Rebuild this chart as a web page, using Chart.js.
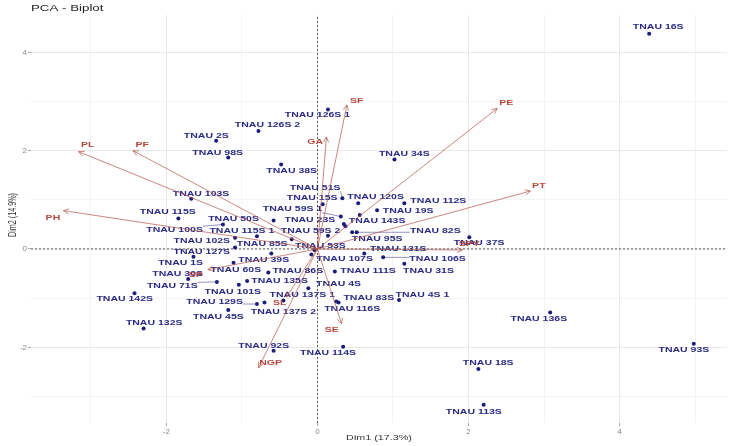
<!DOCTYPE html>
<html>
<head>
<meta charset="utf-8">
<script src="https://cdn.jsdelivr.net/npm/chart.js@4.4.1/dist/chart.umd.min.js"></script>
<style>
  html,body{margin:0;padding:0;background:#fff}
  #wrap{width:731px;height:446px}
</style>
</head>
<body>
<div id="wrap"><canvas id="c"></canvas></div>
<script>
/* PCA biplot — genotypes (points) + trait loadings (arrows) */

var NAMES = ['TNAU 16S','TNAU 126S 1','TNAU 126S 2','TNAU 2S','TNAU 98S','TNAU 38S','TNAU 34S','TNAU 51S','TNAU 15S','TNAU 120S',
  'TNAU 112S','TNAU 103S','TNAU 59S 1','TNAU 19S','TNAU 115S','TNAU 50S','TNAU 23S','TNAU 143S','TNAU 100S','TNAU 115S 1',
  'TNAU 59S 2','TNAU 95S','TNAU 82S','TNAU 102S','TNAU 85S','TNAU 127S','TNAU 53S','TNAU 131S','TNAU 37S','TNAU 107S',
  'TNAU 106S','TNAU 39S','TNAU 1S','TNAU 60S','TNAU 86S','TNAU 111S','TNAU 31S','TNAU 30S','TNAU 71S','TNAU 135S',
  'TNAU 4S','TNAU 101S','TNAU 83S','TNAU 4S 1','TNAU 142S','TNAU 129S','TNAU 116S','TNAU 137S 2','TNAU 45S','TNAU 132S',
  'TNAU 136S','TNAU 92S','TNAU 114S','TNAU 93S','TNAU 18S','TNAU 113S','TNAU 137S 1',''];
var DIM1 = [4.39,0.14,-0.78,-1.34,-1.18,-0.48,1.02,0.33,0.07,0.54,
  1.15,-1.67,0.31,0.79,-1.84,-0.58,0.35,0.37,-1.25,-0.80,
  0.14,0.46,0.52,-1.09,-0.34,-1.09,-0.04,0.62,2.01,-0.08,
  0.87,-0.61,-1.64,-1.11,-0.65,0.23,1.15,-1.71,-1.33,-0.93,
  -0.12,-1.04,0.28,1.08,-2.42,-0.80,0.25,-0.70,-1.18,-2.30,
  3.08,-0.58,0.34,4.98,2.13,2.20,-0.45,0.56];
var DIM2 = [4.38,2.84,2.40,2.20,1.86,1.72,1.82,1.03,0.91,0.93,
  0.93,1.02,0.66,0.79,0.62,0.58,0.51,0.46,0.50,0.26,
  0.27,0.34,0.34,0.23,0.20,0.03,-0.02,-0.09,0.24,-0.11,
  -0.17,-0.09,-0.16,-0.28,-0.48,-0.46,-0.30,-0.61,-0.67,-0.65,
  -0.80,-0.73,-1.09,-1.04,-0.90,-1.12,-1.07,-1.09,-1.24,-1.62,
  -1.29,-2.07,-1.99,-1.93,-2.44,-3.17,-1.05,0.69];
// where the repelled labels ended up (data units)
var LAB_X = [4.51,0.00,-0.66,-1.47,-1.32,-0.34,1.15,-0.03,-0.07,0.77,
  1.60,-1.54,-0.33,1.20,-1.98,-1.11,-0.10,0.79,-1.89,-1.00,
  -0.09,0.79,1.56,-1.53,-0.73,-1.53,0.04,1.07,2.14,0.36,
  1.59,-0.71,-1.81,-1.08,-0.26,0.67,1.47,-1.85,-1.92,-0.50,
  0.28,-1.12,0.68,1.39,-2.55,-1.36,0.46,-0.45,-1.31,-2.16,
  2.93,-0.71,0.14,4.85,2.26,2.07,-0.20,0];
var LAB_Y = [4.51,2.72,2.52,2.30,1.95,1.59,1.93,1.25,1.04,1.05,
  0.98,1.13,0.81,0.78,0.75,0.61,0.59,0.58,0.39,0.37,
  0.37,0.20,0.37,0.17,0.10,-0.07,0.07,0.00,0.12,-0.21,
  -0.21,-0.22,-0.28,-0.43,-0.44,-0.44,-0.44,-0.51,-0.75,-0.65,
  -0.72,-0.87,-0.99,-0.93,-1.02,-1.08,-1.22,-1.29,-1.38,-1.50,
  -1.43,-1.97,-2.12,-2.05,-2.32,-3.32,-0.93,0];
var SEGMENTED = ['TNAU 51S','TNAU 59S 1','TNAU 100S','TNAU 82S','TNAU 106S','TNAU 71S','TNAU 129S'];

var VAR_NAMES = ['PL','PF','PH','SF','GA','PE','PT','SPY','SP','SL','SE','NGP'];
var VAR_X  = [-3.16,-2.44,-3.36,0.39,0.12,2.38,2.82,1.92,-1.45,-0.41,0.32,-0.78];
var VAR_Y  = [1.98,2.00,0.78,2.93,2.28,2.86,1.18,-0.02,-0.42,-0.98,-1.52,-2.42];
var VAR_LX = [-3.04,-2.32,-3.50,0.52,-0.03,2.50,2.93,2.01,-1.61,-0.50,0.19,-0.62];
var VAR_LY = [2.11,2.11,0.64,3.01,2.17,2.97,1.29,0.10,-0.53,-1.10,-1.65,-2.32];

var X_TICKS = [-3,-2,-1,0,1,2,3,4,5];
var Y_TICKS = [-3,-2,-1,0,1,2,3,4];
var X_RANGE = [-3.79, 5.42], Y_RANGE = [-3.54, 4.76];

var C_PT = '#1b1b7a', C_PTLAB = '#2a2a86', C_VAR = '#b8473d', C_ARROW = 'rgba(180,85,75,.7)';
var FONT = '"Liberation Sans", Arial, sans-serif';
var SX = 1.4;   // the source picture is stretched sideways, text too

function isMajor(v){ return v % 2 === 0; }

// text stretched the same way as in the picture
function wideText(ctx, s, x, y, rot){
  ctx.save();
  ctx.translate(x, y);
  ctx.scale(SX, 1);
  if(rot) ctx.rotate(rot);
  ctx.fillText(s, 0, 0);
  ctx.restore();
}

var textPlugin = {
  id:'biplotText',
  beforeDatasetsDraw: function(chart){
    var ctx = chart.ctx, xs = chart.scales.x, ys = chart.scales.y;
    ctx.save();
    ctx.font = 'bold 7.5px ' + FONT;
    ctx.textAlign = 'center'; ctx.textBaseline = 'middle';
    NAMES.forEach(function(n, i){
      if(!n) return;
      var cx = xs.getPixelForValue(LAB_X[i]), cy = ys.getPixelForValue(LAB_Y[i]);
      if(SEGMENTED.indexOf(n) !== -1){
        var w = ctx.measureText(n).width * SX;
        var px = xs.getPixelForValue(DIM1[i]), py = ys.getPixelForValue(DIM2[i]);
        var nx = Math.max(cx - w/2, Math.min(cx + w/2, px));
        var ny = Math.max(cy - 3.5, Math.min(cy + 3.5, py));
        ctx.strokeStyle = '#6464a4'; ctx.lineWidth = 0.7;
        ctx.beginPath(); ctx.moveTo(nx, ny); ctx.lineTo(px, py); ctx.stroke();
      }
      ctx.fillStyle = C_PTLAB;
      wideText(ctx, n, cx, cy);
    });
    ctx.restore();
  },
  afterDatasetsDraw: function(chart){
    var ctx = chart.ctx, xs = chart.scales.x, ys = chart.scales.y, ca = chart.chartArea;
    var ox = xs.getPixelForValue(0), oy = ys.getPixelForValue(0);
    ctx.save();
    // open arrow heads
    ctx.strokeStyle = C_ARROW; ctx.lineWidth = 1;
    VAR_NAMES.forEach(function(v, i){
      var tx = xs.getPixelForValue(VAR_X[i]), ty = ys.getPixelForValue(VAR_Y[i]);
      var a = Math.atan2(ty - oy, tx - ox), L = 6, s = 0.45;
      ctx.beginPath();
      ctx.moveTo(tx - L*Math.cos(a - s), ty - L*Math.sin(a - s));
      ctx.lineTo(tx, ty);
      ctx.lineTo(tx - L*Math.cos(a + s), ty - L*Math.sin(a + s));
      ctx.stroke();
    });
    ctx.font = 'bold 7.5px ' + FONT;
    ctx.textAlign = 'center'; ctx.textBaseline = 'middle';
    ctx.fillStyle = C_VAR;
    VAR_NAMES.forEach(function(v, i){
      wideText(ctx, v, xs.getPixelForValue(VAR_LX[i]), ys.getPixelForValue(VAR_LY[i]));
    });
    // title + axis titles
    ctx.fillStyle = '#222';
    ctx.font = '9.5px ' + FONT; ctx.textAlign = 'left';
    wideText(ctx, 'PCA - Biplot', ca.left, 8);
    ctx.fillStyle = '#333';
    ctx.font = '7.7px ' + FONT; ctx.textAlign = 'center';
    wideText(ctx, 'Dim1 (17.3%)', (ca.left + ca.right)/2, 438);
    ctx.font = '7.2px ' + FONT;
    wideText(ctx, 'Dim2 (14.9%)', 13, (ca.top + ca.bottom)/2 - 4, -Math.PI/2);
    ctx.restore();
  }
};

var datasets = [{
  data: DIM1.map(function(x, i){ return {x:x, y:DIM2[i]}; }),
  pointRadius: 2, pointBackgroundColor: C_PT, pointBorderWidth: 0, showLine:false, order: 2
}];
VAR_NAMES.forEach(function(v, i){
  datasets.push({ data:[{x:0,y:0},{x:VAR_X[i],y:VAR_Y[i]}], showLine:true,
    borderColor:C_ARROW, borderWidth:1, pointRadius:0, order:1 });
});
datasets.push({ data:[{x:X_RANGE[0],y:0},{x:X_RANGE[1],y:0}], showLine:true, borderColor:'#333',
  borderWidth:0.8, borderDash:[2,2], pointRadius:0, order:3 });
datasets.push({ data:[{x:0,y:Y_RANGE[0]},{x:0,y:Y_RANGE[1]}], showLine:true, borderColor:'#333',
  borderWidth:0.8, borderDash:[2,2], pointRadius:0, order:3 });

function gridColor(c){ var v = c.tick && c.tick.value; return isMajor(v) ? '#e9e9e9' : '#f4f4f4'; }
function tickColor(c){ var v = c.tick && c.tick.value; return isMajor(v) ? '#aaa' : 'rgba(0,0,0,0)'; }

new Chart(document.getElementById('c'), {
  type: 'scatter',
  data: { datasets: datasets },
  options: {
    responsive: true, maintainAspectRatio: false, animation: false,
    layout: { padding: { top: 15, right: 0, left: 0, bottom: 0 } },
    plugins: { legend: { display: false }, tooltip: { enabled: false } },
    scales: {
      x: {
        min: X_RANGE[0], max: X_RANGE[1],
        afterBuildTicks: function(s){ s.ticks = X_TICKS.map(function(v){ return {value:v}; }); },
        afterFit: function(s){ s.height = 23; },
        ticks: { autoSkip:false, maxRotation:0, padding:1, color:'#888', font:{size:8, family:FONT},
          callback: function(v){ return isMajor(v) ? String(v) : ''; } },
        grid: { color: gridColor, tickColor: tickColor, tickLength: 3, lineWidth: 1 },
        border: { display: false }
      },
      y: {
        min: Y_RANGE[0], max: Y_RANGE[1],
        afterBuildTicks: function(s){ s.ticks = Y_TICKS.map(function(v){ return {value:v}; }); },
        afterFit: function(s){ s.width = 31; },
        ticks: { autoSkip:false, padding:1, color:'#888', font:{size:8, family:FONT},
          callback: function(v){ return isMajor(v) ? String(v) : ''; } },
        grid: { color: gridColor, tickColor: tickColor, tickLength: 3, lineWidth: 1 },
        border: { display: false }
      }
    }
  },
  plugins: [textPlugin]
});
</script>
</body>
</html>
